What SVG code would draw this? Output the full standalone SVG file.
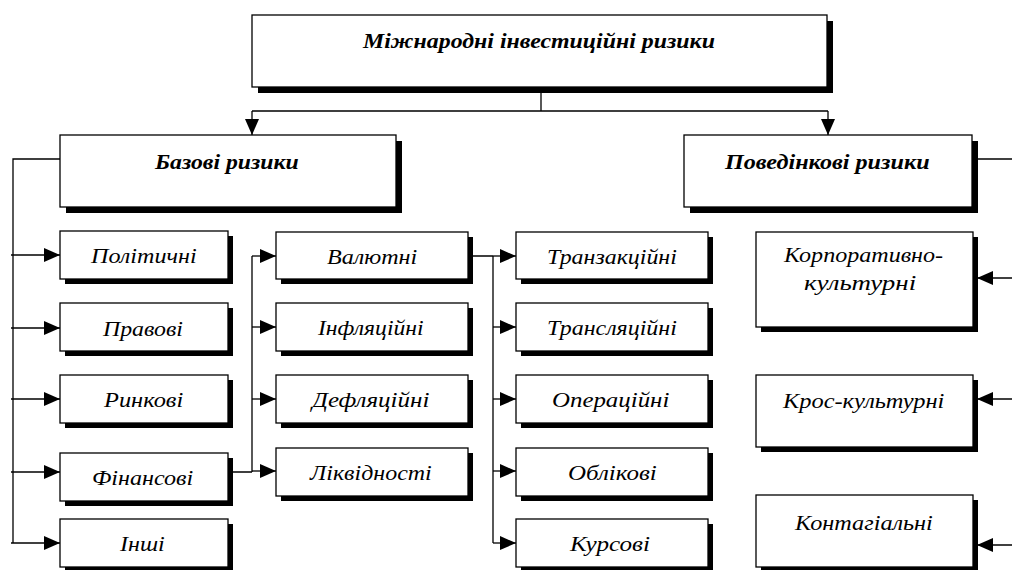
<svg xmlns="http://www.w3.org/2000/svg" width="1012" height="570" viewBox="0 0 1012 570">
<defs>
<marker id="ah" viewBox="0 0 16 14" refX="16" refY="7" markerWidth="16" markerHeight="14" markerUnits="userSpaceOnUse" orient="auto">
<path d="M0,0 L16,7 L0,14 Z" fill="#000"/>
</marker>
</defs>
<rect width="1012" height="570" fill="#fff"/>
<g id="connectors" fill="none" stroke="#000" stroke-width="1.3">
<path d="M541,87 V111 M252,111 H828"/>
<path d="M252,111 V135" marker-end="url(#ah)"/>
<path d="M828,111 V135" marker-end="url(#ah)"/>
<path d="M60,159 H13 V543"/>
<path d="M11,255 H60" marker-end="url(#ah)"/>
<path d="M11,328 H60" marker-end="url(#ah)"/>
<path d="M11,399 H60" marker-end="url(#ah)"/>
<path d="M11,472 H60" marker-end="url(#ah)"/>
<path d="M11,543 H60" marker-end="url(#ah)"/>
<path d="M228,472 H252 M252,256 V472"/>
<path d="M252,256 H276" marker-end="url(#ah)"/>
<path d="M252,327 H276" marker-end="url(#ah)"/>
<path d="M252,399 H276" marker-end="url(#ah)"/>
<path d="M252,471 H276" marker-end="url(#ah)"/>
<path d="M468,256 H493 M493,256 V543"/>
<path d="M493,256 H516" marker-end="url(#ah)"/>
<path d="M493,327 H516" marker-end="url(#ah)"/>
<path d="M493,399 H516" marker-end="url(#ah)"/>
<path d="M493,471 H516" marker-end="url(#ah)"/>
<path d="M493,543 H516" marker-end="url(#ah)"/>
<path d="M972,159 H1012"/>
<path d="M1012,278 H977" marker-end="url(#ah)"/>
<path d="M1012,399 H977" marker-end="url(#ah)"/>
<path d="M1012,545 H977" marker-end="url(#ah)"/>
</g>
<g id="n-top"><rect x="258" y="21" width="575" height="72" fill="#000"/><rect x="252" y="15" width="575" height="72" fill="#fff" stroke="#000" stroke-width="1.3"/><text font-family="Liberation Serif" font-style="italic" font-weight="bold" font-size="30" transform="translate(363,48) scale(0.7333)" textLength="480" lengthAdjust="spacingAndGlyphs">Міжнародні інвестиційні ризики</text></g>
<g id="n-base"><rect x="66" y="141" width="336" height="72" fill="#000"/><rect x="60" y="135" width="336" height="72" fill="#fff" stroke="#000" stroke-width="1.3"/><text font-family="Liberation Serif" font-style="italic" font-weight="bold" font-size="30" transform="translate(155,169) scale(0.7333)" textLength="196" lengthAdjust="spacingAndGlyphs">Базові ризики</text></g>
<g id="n-behav"><rect x="690" y="141" width="288" height="72" fill="#000"/><rect x="684" y="135" width="288" height="72" fill="#fff" stroke="#000" stroke-width="1.3"/><text font-family="Liberation Serif" font-style="italic" font-weight="bold" font-size="30" transform="translate(725,169) scale(0.7333)" textLength="279" lengthAdjust="spacingAndGlyphs">Поведінкові ризики</text></g>
<g id="n-pol"><rect x="65" y="236" width="168" height="48" fill="#000"/><rect x="60" y="231" width="168" height="48" fill="#fff" stroke="#000" stroke-width="1.3"/><text font-family="Liberation Serif" font-style="italic" font-size="30" transform="translate(91,263) scale(0.7333)" textLength="144" lengthAdjust="spacingAndGlyphs">Політичні</text></g>
<g id="n-prav"><rect x="65" y="308" width="168" height="48" fill="#000"/><rect x="60" y="303" width="168" height="48" fill="#fff" stroke="#000" stroke-width="1.3"/><text font-family="Liberation Serif" font-style="italic" font-size="30" transform="translate(103,336) scale(0.7333)" textLength="109" lengthAdjust="spacingAndGlyphs">Правові</text></g>
<g id="n-rynk"><rect x="65" y="380" width="168" height="48" fill="#000"/><rect x="60" y="375" width="168" height="48" fill="#fff" stroke="#000" stroke-width="1.3"/><text font-family="Liberation Serif" font-style="italic" font-size="30" transform="translate(104,407) scale(0.7333)" textLength="108" lengthAdjust="spacingAndGlyphs">Ринкові</text></g>
<g id="n-fin"><rect x="65" y="458" width="168" height="48" fill="#000"/><rect x="60" y="453" width="168" height="48" fill="#fff" stroke="#000" stroke-width="1.3"/><text font-family="Liberation Serif" font-style="italic" font-size="30" transform="translate(92,485) scale(0.7333)" textLength="138" lengthAdjust="spacingAndGlyphs">Фінансові</text></g>
<g id="n-inshi"><rect x="65" y="524" width="168" height="48" fill="#000"/><rect x="60" y="519" width="168" height="48" fill="#fff" stroke="#000" stroke-width="1.3"/><text font-family="Liberation Serif" font-style="italic" font-size="30" transform="translate(120,551) scale(0.7333)" textLength="61" lengthAdjust="spacingAndGlyphs">Інші</text></g>
<g id="n-val"><rect x="281" y="237" width="192" height="47" fill="#000"/><rect x="276" y="232" width="192" height="47" fill="#fff" stroke="#000" stroke-width="1.3"/><text font-family="Liberation Serif" font-style="italic" font-size="30" transform="translate(327,264) scale(0.7333)" textLength="123" lengthAdjust="spacingAndGlyphs">Валютні</text></g>
<g id="n-infl"><rect x="281" y="308" width="192" height="48" fill="#000"/><rect x="276" y="303" width="192" height="48" fill="#fff" stroke="#000" stroke-width="1.3"/><text font-family="Liberation Serif" font-style="italic" font-size="30" transform="translate(318,335) scale(0.7333)" textLength="144" lengthAdjust="spacingAndGlyphs">Інфляційні</text></g>
<g id="n-defl"><rect x="281" y="380" width="192" height="48" fill="#000"/><rect x="276" y="375" width="192" height="48" fill="#fff" stroke="#000" stroke-width="1.3"/><text font-family="Liberation Serif" font-style="italic" font-size="30" transform="translate(312,407) scale(0.7333)" textLength="160" lengthAdjust="spacingAndGlyphs">Дефляційні</text></g>
<g id="n-likv"><rect x="281" y="453" width="192" height="48" fill="#000"/><rect x="276" y="448" width="192" height="48" fill="#fff" stroke="#000" stroke-width="1.3"/><text font-family="Liberation Serif" font-style="italic" font-size="30" transform="translate(310,480) scale(0.7333)" textLength="166" lengthAdjust="spacingAndGlyphs">Ліквідності</text></g>
<g id="n-tranz"><rect x="521" y="237" width="192" height="47" fill="#000"/><rect x="516" y="232" width="192" height="47" fill="#fff" stroke="#000" stroke-width="1.3"/><text font-family="Liberation Serif" font-style="italic" font-size="30" transform="translate(547,264) scale(0.7333)" textLength="177" lengthAdjust="spacingAndGlyphs">Транзакційні</text></g>
<g id="n-transl"><rect x="521" y="308" width="192" height="48" fill="#000"/><rect x="516" y="303" width="192" height="48" fill="#fff" stroke="#000" stroke-width="1.3"/><text font-family="Liberation Serif" font-style="italic" font-size="30" transform="translate(547,335) scale(0.7333)" textLength="177" lengthAdjust="spacingAndGlyphs">Трансляційні</text></g>
<g id="n-oper"><rect x="521" y="380" width="192" height="48" fill="#000"/><rect x="516" y="375" width="192" height="48" fill="#fff" stroke="#000" stroke-width="1.3"/><text font-family="Liberation Serif" font-style="italic" font-size="30" transform="translate(552,407) scale(0.7333)" textLength="160" lengthAdjust="spacingAndGlyphs">Операційні</text></g>
<g id="n-oblik"><rect x="521" y="453" width="192" height="48" fill="#000"/><rect x="516" y="448" width="192" height="48" fill="#fff" stroke="#000" stroke-width="1.3"/><text font-family="Liberation Serif" font-style="italic" font-size="30" transform="translate(568,480) scale(0.7333)" textLength="121" lengthAdjust="spacingAndGlyphs">Облікові</text></g>
<g id="n-kurs"><rect x="521" y="524" width="192" height="48" fill="#000"/><rect x="516" y="519" width="192" height="48" fill="#fff" stroke="#000" stroke-width="1.3"/><text font-family="Liberation Serif" font-style="italic" font-size="30" transform="translate(570,551) scale(0.7333)" textLength="109" lengthAdjust="spacingAndGlyphs">Курсові</text></g>
<g id="n-korp"><rect x="761" y="237" width="217" height="95" fill="#000"/><rect x="756" y="232" width="217" height="95" fill="#fff" stroke="#000" stroke-width="1.3"/><text font-family="Liberation Serif" font-style="italic" font-size="30" transform="translate(784,262) scale(0.7333)" textLength="217" lengthAdjust="spacingAndGlyphs">Корпоративно-</text><text font-family="Liberation Serif" font-style="italic" font-size="30" transform="translate(804,290) scale(0.7333)" textLength="153" lengthAdjust="spacingAndGlyphs">культурні</text></g>
<g id="n-kros"><rect x="761" y="380" width="217" height="72" fill="#000"/><rect x="756" y="375" width="217" height="72" fill="#fff" stroke="#000" stroke-width="1.3"/><text font-family="Liberation Serif" font-style="italic" font-size="30" transform="translate(783,408) scale(0.7333)" textLength="220" lengthAdjust="spacingAndGlyphs">Крос-культурні</text></g>
<g id="n-kont"><rect x="761" y="500" width="217" height="72" fill="#000"/><rect x="756" y="495" width="217" height="72" fill="#fff" stroke="#000" stroke-width="1.3"/><text font-family="Liberation Serif" font-style="italic" font-size="30" transform="translate(795,530) scale(0.7333)" textLength="188" lengthAdjust="spacingAndGlyphs">Контагіальні</text></g>
</svg>
